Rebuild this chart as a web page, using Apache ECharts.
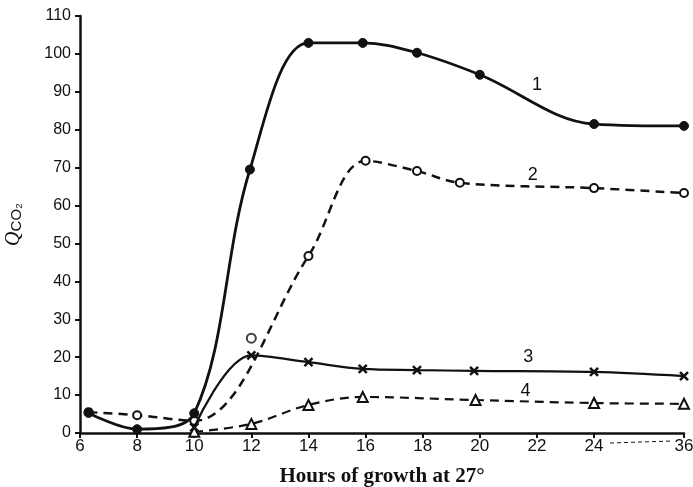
<!DOCTYPE html>
<html>
<head>
<meta charset="utf-8">
<script src="https://cdn.jsdelivr.net/npm/echarts@6/dist/echarts.min.js"></script>
<style>html,body{margin:0;padding:0;background:#fff}#c{width:693px;height:487px}</style>
</head>
<body>
<div id="c"></div>
<script>
// ---- data (hours of growth, Q_CO2) ----
const tickHours = [6, 8, 10, 12, 14, 16, 18, 20, 22, 24, 36];
const s1Hours = [6.3, 8, 10, 11.95, 14, 15.9, 17.8, 20, 24, 36];
const s1Vals  = [5.3, 1, 5.2, 69.5, 102.9, 102.9, 100.3, 94.5, 81.5, 81];
const s2Hours = [6.3, 8, 10, 14, 16, 17.8, 19.3, 24, 36];
const s2Vals  = [5.5, 4.7, 3.2, 46.7, 71.8, 69.1, 66, 64.6, 63.3];
const s2ExtraHours = [12];
const s2ExtraVals  = [25];
const s3Hours = [10, 12, 14, 15.9, 17.8, 19.8, 24, 36];
const s3Vals  = [1.5, 20.5, 18.7, 16.9, 16.6, 16.4, 16.1, 15];
const s4Hours = [10, 12, 14, 15.9, 19.85, 24, 36];
const s4Vals  = [0.3, 2.4, 7.4, 9.5, 8.7, 7.9, 7.7];
const curveNames = ['1', '2', '3', '4'];
const curveLabelHours = [22.0, 21.85, 21.7, 21.6];
const curveLabelVals  = [91.8, 68, 20, 11];

// broken time axis: 24 -> 36 compressed
const BREAK = 24, COMPRESS = 3.15 / 12;
function pos(h) { return h <= BREAK ? h : BREAK + (h - BREAK) * COMPRESS; }
function pts(hs, vs) { return hs.map((h, i) => [pos(h), vs[i]]); }

const narrow = "'Liberation Sans Narrow', 'Liberation Sans', sans-serif";
const crossPath = 'path://M0,0 L10,10 M10,0 L0,10';
const tickPos = tickHours.map(pos);

const chart = echarts.init(document.getElementById('c'), null, {renderer: 'canvas'});
const option = {
  animation: false,
  backgroundColor: '#fff',
  grid: {left: 80, right: 9, top: 16, bottom: 54, containLabel: false, outerBoundsMode: 'none'},
  xAxis: {
    type: 'value', min: 6, max: pos(36),
    name: 'Hours of growth at 27°', nameLocation: 'middle', nameGap: 33,
    nameTextStyle: {fontFamily: "'Liberation Serif', 'DejaVu Serif', serif", fontWeight: 'bold', fontSize: 21, color: '#111'},
    axisLine: {lineStyle: {color: '#111', width: 2.5}},
    axisTick: {show: true, inside: false, length: 5, lineStyle: {color: '#111', width: 2}, customValues: tickPos},
    axisLabel: {customValues: tickPos, margin: 5, fontFamily: narrow, fontSize: 17, color: '#111',
      formatter: v => { const i = tickPos.findIndex(p => Math.abs(p - v) < 1e-6); return i >= 0 ? String(tickHours[i]) : ''; }},
    splitLine: {show: false}
  },
  yAxis: {
    type: 'value', min: 0, max: 110, interval: 10,
    name: '{q|Q}{s|CO₂}', nameLocation: 'middle', nameGap: 56, nameRotate: 90,
    nameTextStyle: {fontSize: 19, rich: {
      q: {fontFamily: "'Liberation Serif', serif", fontStyle: 'italic', fontSize: 20, color: '#111', verticalAlign: 'bottom'},
      s: {fontFamily: "'Liberation Sans', sans-serif", fontSize: 15, color: '#111', padding: [9, 0, 0, 0], verticalAlign: 'bottom'}
    }},
    axisLine: {show: true, lineStyle: {color: '#111', width: 2.5}},
    axisTick: {show: true, inside: false, length: 5, lineStyle: {color: '#111', width: 2}},
    axisLabel: {margin: 9, fontFamily: narrow, fontSize: 16, color: '#111'},
    splitLine: {show: false}
  },
  series: [
    {type: 'line', z: 3, data: pts(s2Hours, s2Vals), smooth: 0.35,
     symbol: 'circle', symbolSize: 8, showAllSymbol: true,
     itemStyle: {color: '#fff', borderColor: '#111', borderWidth: 2},
     lineStyle: {color: '#111', width: 2.5, type: [9, 6]}},
    {type: 'scatter', z: 3, data: pts(s2ExtraHours, s2ExtraVals),
     symbol: 'circle', symbolSize: 9,
     itemStyle: {color: '#fff', borderColor: '#111', borderWidth: 2}},
    {type: 'line', z: 4, data: pts(s4Hours, s4Vals), smooth: 0.35,
     symbol: 'triangle', symbolSize: 10, showAllSymbol: true,
     itemStyle: {color: '#fff', borderColor: '#111', borderWidth: 2},
     lineStyle: {color: '#111', width: 2.2, type: [9, 6]}},
    {type: 'line', z: 5, data: pts(s3Hours, s3Vals), smooth: 0.35,
     symbol: crossPath, symbolSize: 8, showAllSymbol: true,
     itemStyle: {color: 'transparent', borderColor: '#111', borderWidth: 2.5},
     lineStyle: {color: '#111', width: 2.2}},
    {type: 'line', z: 6, data: pts(s1Hours, s1Vals), smooth: 0.35,
     symbol: 'circle', symbolSize: 9, showAllSymbol: true,
     itemStyle: {color: '#111', borderColor: '#111', borderWidth: 1},
     lineStyle: {color: '#111', width: 2.8},
     markPoint: {
       symbol: 'circle', symbolSize: 1, itemStyle: {color: 'transparent'},
       label: {show: true, position: 'inside', fontFamily: narrow, fontSize: 18, color: '#111', formatter: p => p.name},
       data: curveNames.map((n, i) => ({name: n, coord: [pos(curveLabelHours[i]), curveLabelVals[i]]}))
     }}
  ]
};
chart.setOption(option);
// thin dashed connector between the "24" and "36" labels (axis break)
const y0 = chart.convertToPixel({gridIndex: 0}, [6, 0])[1];
const xa = chart.convertToPixel({gridIndex: 0}, [pos(24), 0])[0] + 16;
const xb = chart.convertToPixel({gridIndex: 0}, [pos(36), 0])[0] - 12;
chart.setOption({graphic: [{type: 'line', shape: {x1: xa, y1: y0 + 10, x2: xb, y2: y0 + 8},
  style: {stroke: '#111', lineWidth: 1, lineDash: [4, 3]}}]});
</script>
</body>
</html>
